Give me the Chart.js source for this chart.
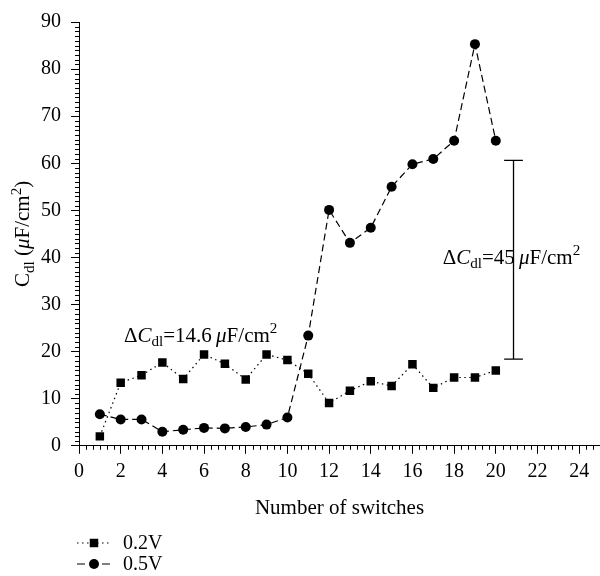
<!DOCTYPE html>
<html>
<head>
<meta charset="utf-8">
<script src="https://cdn.jsdelivr.net/npm/chart.js@4.4.1/dist/chart.umd.min.js"></script>
<style>
body{margin:0;background:#fff;}
#wrap{width:600px;height:576px;position:relative;}
</style>
</head>
<body>
<div id="wrap"><canvas id="cdlChart"></canvas></div>
<script>
// =========================
// DATA
// =========================

const switches = [1,2,3,4,5,6,7,8,9,10,11,12,13,14,15,16,17,18,19,20];
const cdl02 = [2.0,13.4,15.0,17.7,14.2,19.4,17.4,14.1,19.4,18.2,15.3,9.1,11.7,13.7,12.7,17.3,12.3,14.5,14.5,16.0];
const cdl05 = [6.7,5.6,5.6,3.0,3.4,3.8,3.7,4.0,4.5,6.0,23.4,50.1,43.1,46.3,55.0,59.8,60.9,64.8,85.3,64.8];
const seriesLabels = ["0.2V","0.5V"];
const xTicks = [0,2,4,6,8,10,12,14,16,18,20,22,24];

// delta bar on the right (x, low, high)
const deltaBarX = 20.85;
const deltaBarY = [18.4, 60.6];

// annotation texts : anchor [x, y] in data units
const note1Pos = [2.16, 22.1];
const note2Pos = [20.75, 38.7];

const FONT = '"Liberation Serif", "Times New Roman", serif';
const FS = 20;   // ticks
const FT = 21;   // titles, notes

// =========================
// HELPERS
// =========================

function drawRich(ctx, parts, x, y, size, align){
  let w = 0;
  parts.forEach(p => {
    const s = (p.sub || p.sup) ? size*0.72 : size;
    ctx.font = (p.it ? "italic " : "") + s + "px " + FONT;
    p._w = ctx.measureText(p.t).width;
    w += p._w;
  });
  let cx = align === "center" ? x - w/2 : x;
  ctx.textAlign = "left";
  ctx.textBaseline = "alphabetic";
  parts.forEach(p => {
    const s = (p.sub || p.sup) ? size*0.72 : size;
    ctx.font = (p.it ? "italic " : "") + s + "px " + FONT;
    const dy = p.sub ? size*0.22 : (p.sup ? -size*0.4 : 0);
    ctx.fillText(p.t, cx, y + dy);
    cx += p._w;
  });
}

function deltaText(val){
  return [
    {t:"\u0394"},{t:"C",it:true},{t:"dl",sub:true},
    {t:"=" + val + "\u2009"},{t:"\u03bc",it:true},{t:"F/cm"},{t:"2",sup:true}
  ];
}

const extras = {
  id:"extras",
  afterDraw(chart){
    const ctx = chart.ctx;
    const xs = chart.scales.x, ys = chart.scales.y;
    const area = chart.chartArea;

    ctx.save();
    ctx.strokeStyle = "#000";
    ctx.fillStyle = "#000";
    ctx.lineWidth = 1;

    // minor ticks
    ctx.beginPath();
    for(let i = 1; i < 75; i++){
      if(i % 6 === 0) continue;
      const px = Math.round(xs.getPixelForValue(i/3)) + 0.5;
      ctx.moveTo(px, area.bottom);
      ctx.lineTo(px, area.bottom + 4);
    }
    for(let v = 1; v < 90; v++){
      if(v % 10 === 0) continue;
      const py = Math.round(ys.getPixelForValue(v)) + 0.5;
      ctx.moveTo(area.left, py);
      ctx.lineTo(area.left - 4, py);
    }
    ctx.stroke();

    // delta bar
    const bx = xs.getPixelForValue(deltaBarX);
    const cap = xs.getPixelForValue(deltaBarX + 0.45) - bx;
    const yLo = ys.getPixelForValue(deltaBarY[0]);
    const yHi = ys.getPixelForValue(deltaBarY[1]);
    ctx.lineWidth = 1.3;
    ctx.beginPath();
    ctx.moveTo(bx, yLo); ctx.lineTo(bx, yHi);
    ctx.moveTo(bx - cap, yLo); ctx.lineTo(bx + cap, yLo);
    ctx.moveTo(bx - cap, yHi); ctx.lineTo(bx + cap, yHi);
    ctx.stroke();

    // annotations
    drawRich(ctx, deltaText("14.6"), xs.getPixelForValue(note1Pos[0]), ys.getPixelForValue(note1Pos[1]), FT, "left");
    drawRich(ctx, deltaText("45"), xs.getPixelForValue(note2Pos[0]), ys.getPixelForValue(note2Pos[1]), FT, "center");

    // y title
    ctx.save();
    ctx.translate(22, (area.top + area.bottom)/2);
    ctx.rotate(-Math.PI/2);
    drawRich(ctx, [
      {t:"C"},{t:"dl",sub:true},{t:" ("},{t:"\u03bc",it:true},{t:"F/cm"},{t:"2",sup:true},{t:")"}
    ], 0, 7, FT, "center");
    ctx.restore();

    // legend
    const rows = [543, 564];
    chart.data.datasets.forEach((ds, i) => {
      const y = rows[i];
      ctx.lineWidth = 1.2;
      ctx.setLineDash(i === 0 ? [1.5, 3.5] : [8, 17]);
      ctx.beginPath();
      ctx.moveTo(77, y); ctx.lineTo(110, y);
      ctx.stroke();
      ctx.setLineDash([]);
      Chart.helpers.drawPoint(ctx, {pointStyle: ds.pointStyle, radius: ds.pointRadius, borderWidth: 0, rotation: 0}, 94, y);
      ctx.font = FS + "px " + FONT;
      ctx.textAlign = "left";
      ctx.textBaseline = "middle";
      ctx.fillText(ds.label, 123, y + 1);
    });

    ctx.restore();
  }
};

// =========================
// CHART
// =========================

Chart.defaults.font.family = FONT;
Chart.defaults.font.size = FS;
Chart.defaults.color = "#000";

new Chart(document.getElementById("cdlChart"), {
  type:"line",
  data:{
    labels: switches,
    datasets:[
      {
        label: seriesLabels[0],
        data: switches.map((s,i) => ({x:s, y:cdl02[i]})),
        borderColor:"#000", backgroundColor:"#000",
        borderWidth:1.2, borderDash:[1.5,3.5],
        pointStyle:"rect", pointRadius:6, pointBorderWidth:0,
        tension:0
      },
      {
        label: seriesLabels[1],
        data: switches.map((s,i) => ({x:s, y:cdl05[i]})),
        borderColor:"#000", backgroundColor:"#000",
        borderWidth:1.2, borderDash:[7,4],
        pointStyle:"circle", pointRadius:5, pointBorderWidth:0,
        tension:0
      }
    ]
  },
  options:{
    responsive:true,
    maintainAspectRatio:false,
    animation:false,
    layout:{autoPadding:false, padding:{left:31, top:20, right:0, bottom:55}},
    plugins:{legend:{display:false}, tooltip:{enabled:false}},
    scales:{
      x:{
        type:"linear", min:0, max:25,
        afterBuildTicks(scale){ scale.ticks = xTicks.map(v => ({value:v})); },
        afterFit(scale){ scale.paddingRight = 0; },
        ticks:{padding:6, maxRotation:0, autoSkip:false},
        grid:{drawOnChartArea:false, tickLength:8, color:"#000", tickColor:"#000"},
        border:{display:true, color:"#000", width:1},
        title:{display:true, text:"Number of switches", font:{size:FT}, padding:{top:6, bottom:0}}
      },
      y:{
        min:0, max:90,
        ticks:{stepSize:10, padding:10},
        grid:{drawOnChartArea:false, tickLength:8, color:"#000", tickColor:"#000"},
        border:{display:true, color:"#000", width:1}
      }
    }
  },
  plugins:[extras]
});
</script>
</body>
</html>
